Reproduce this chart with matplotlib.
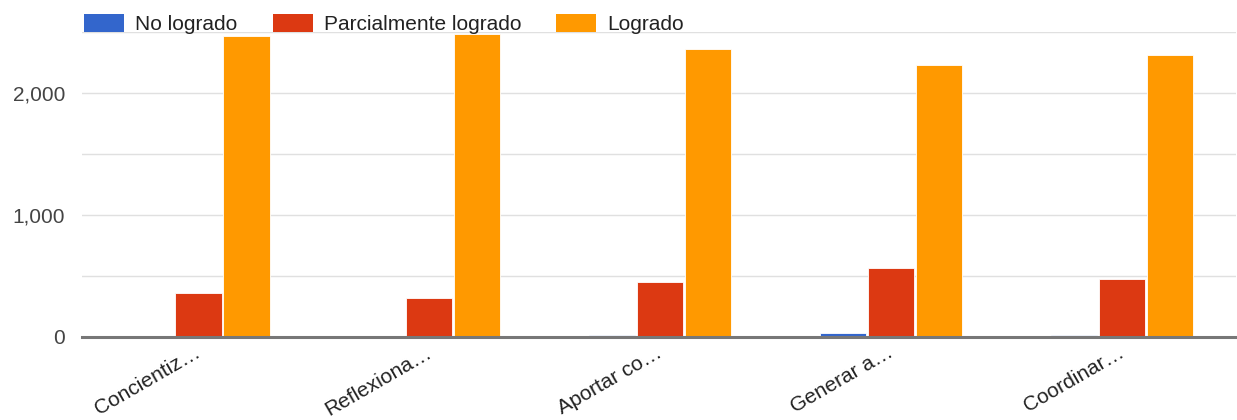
import matplotlib
matplotlib.use("Agg")
import matplotlib.pyplot as plt
import numpy as np
from matplotlib.patches import Patch
from matplotlib.ticker import FuncFormatter, MultipleLocator
import matplotlib.transforms as mtransforms

categories = ["Concientiz…", "Reflexiona…", "Aportar co…", "Generar a…", "Coordinar…"]
series_names = ["No logrado", "Parcialmente logrado", "Logrado"]
no_logrado = [5, 6, 15, 35, 20]
parcial = [362, 321, 453, 568, 477]
logrado = [2470, 2485, 2362, 2230, 2311]
colors = ["#3366cc", "#dc3912", "#ff9900"]

plt.rcParams['font.family'] = ['Liberation Sans', 'DejaVu Sans']

fig = plt.figure(figsize=(12.37, 4.2), dpi=100)
ax = fig.add_axes([82/1237, 1 - 337/420, (1236-82)/1237, (337-32)/420])

x = np.arange(len(categories))
w = 0.2
step = 0.208
for i, (vals, c) in enumerate(zip([no_logrado, parcial, logrado], colors)):
    ax.bar(x + (i - 1) * step + 0.005, vals, width=w, color=c, edgecolor='white',
           linewidth=0.6, zorder=3, label=series_names[i])

ax.set_xlim(-0.5, len(categories) - 0.5)
ax.set_ylim(0, 2500)
ax.yaxis.set_major_locator(MultipleLocator(1000))
ax.yaxis.set_minor_locator(MultipleLocator(500))
ax.yaxis.set_major_formatter(FuncFormatter(lambda v, p: f"{int(v):,}"))
ax.grid(axis='y', which='both', color='#e0e0e0', linewidth=1, zorder=0)
for s in ['top', 'right', 'left']:
    ax.spines[s].set_visible(False)
ax.spines['bottom'].set_color('#777777')
ax.spines['bottom'].set_linewidth(2.2)
ax.spines['bottom'].set_zorder(4)
ax.tick_params(axis='y', which='both', length=0, labelsize=15, labelcolor='#444444', pad=12)
ax.tick_params(axis='x', length=0, labelsize=15, labelcolor='#222222')
ax.set_xticks(x)
ax.set_xticklabels(categories, rotation=30, ha='right', rotation_mode='anchor')
offset = mtransforms.ScaledTranslation(-3/100, -1/100, fig.dpi_scale_trans)
for lbl in ax.get_xticklabels():
    lbl.set_transform(lbl.get_transform() + offset)

handles = [Patch(facecolor=c, edgecolor='none') for c in colors]
leg = fig.legend(handles, series_names, loc='center left',
                 bbox_to_anchor=(76/1237, 1 - 24/420), ncol=3, frameon=False,
                 fontsize=15, handlelength=1.92, handleheight=0.95,
                 handletextpad=0.53, columnspacing=1.68, borderaxespad=0,
                 labelcolor='#222222')

fig.savefig("out.png", dpi=100)
